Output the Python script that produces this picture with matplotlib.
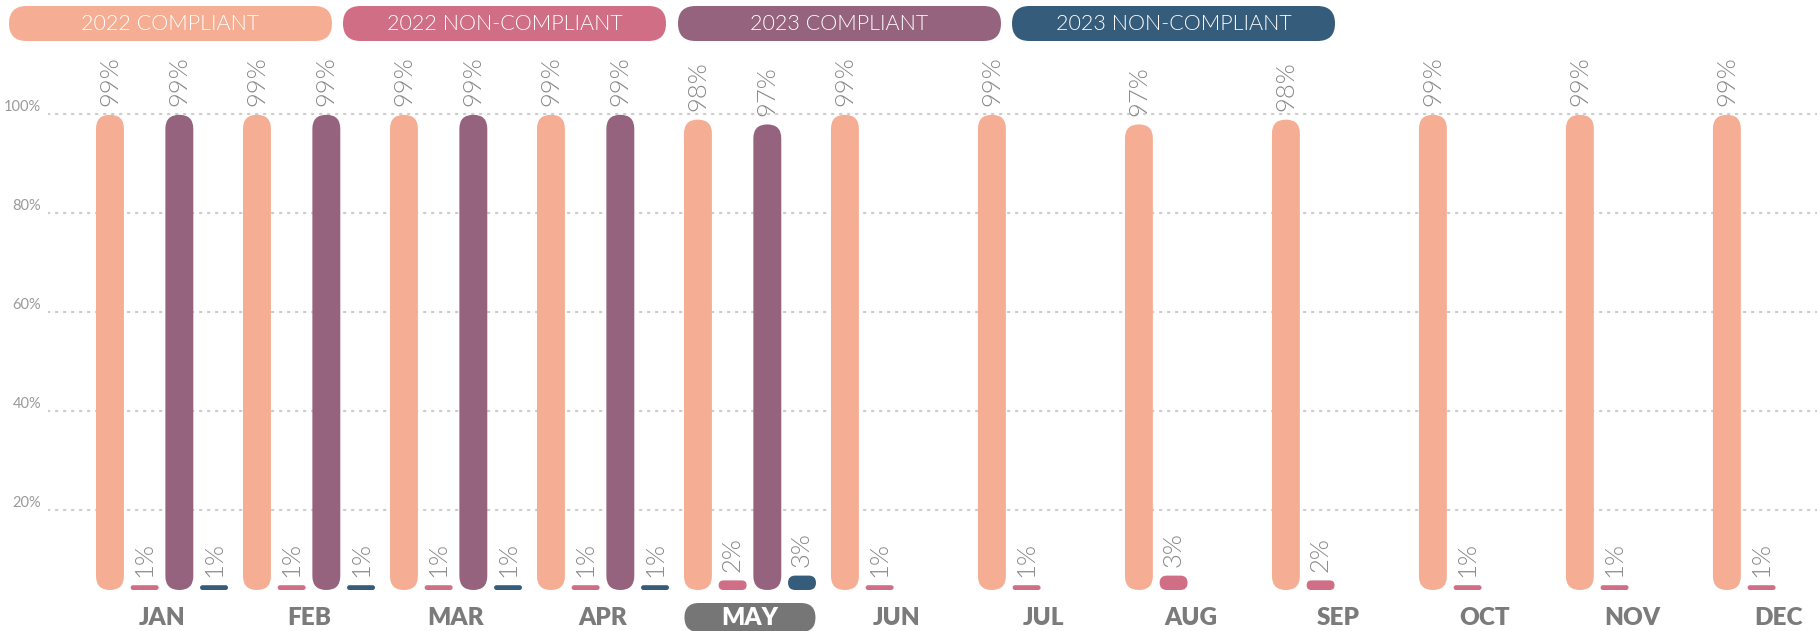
import matplotlib
matplotlib.use("Agg")
import matplotlib.pyplot as plt
from matplotlib.patches import FancyBboxPatch

# ---------------- data ----------------
months = ["JAN", "FEB", "MAR", "APR", "MAY", "JUN", "JUL", "AUG", "SEP", "OCT", "NOV", "DEC"]
series_names = ["2022 COMPLIANT", "2022 NON-COMPLIANT", "2023 COMPLIANT", "2023 NON-COMPLIANT"]
compliant_2022 = [99, 99, 99, 99, 98, 99, 99, 97, 98, 99, 99, 99]
noncompliant_2022 = [1, 1, 1, 1, 2, 1, 1, 3, 2, 1, 1, 1]
compliant_2023 = [99, 99, 99, 99, 97, None, None, None, None, None, None, None]
noncompliant_2023 = [1, 1, 1, 1, 3, None, None, None, None, None, None, None]
series_values = [compliant_2022, noncompliant_2022, compliant_2023, noncompliant_2023]
colors = ["#F5AE93", "#D06E86", "#96637F", "#355C7A"]
yticks = [20, 40, 60, 80, 100]
ytick_labels = ["20%", "40%", "60%", "80%", "100%"]
highlight_month = "MAY"

plt.rcParams["font.family"] = ["Lato", "DejaVu Sans"]

W, H = 1817, 631
fig = plt.figure(figsize=(W / 100, H / 100), dpi=100)
fig.patch.set_facecolor("white")

ax = fig.add_axes([48 / W, 0, (W - 48) / W, 1])
ax.set_xlim(-0.7755, 11.259)
ax.set_ylim(-4.444, 123.03)
for s in ax.spines.values():
    s.set_visible(False)
ax.set_xticks([])
ax.set_yticks(yticks, ytick_labels)
ax.tick_params(axis="y", length=0, pad=5, labelsize=10.5, labelcolor="#9a9a9a")
for lab in ax.get_yticklabels():
    lab.set_verticalalignment("bottom")
ax.yaxis.grid(True, color="#cccccc", linewidth=1.6, linestyle=(0, (0.6, 3.0)),
              dash_capstyle="round")
ax.set_axisbelow(True)

# bar axis
axb = ax.twinx()
axb.set_ylim(-8.542, 122.92)
axb.axis("off")

p0 = axb.transData.transform((0, 0))
p1 = axb.transData.transform((1, 1))
sx, sy = p1[0] - p0[0], p1[1] - p0[1]
aspect = sx / sy

bar_w = 0.19
step = 0.236
for j, vals in enumerate(series_values):
    off = (j - 1.5) * step
    for i, v in enumerate(vals):
        if v is None:
            continue
        x = i + off
        h_px = v * sy
        r_px = min(bar_w * sx, h_px) / 2
        r = r_px / sx
        p = FancyBboxPatch((x - bar_w / 2, 0), bar_w, v,
                           boxstyle=f"round,pad=0,rounding_size={r}",
                           mutation_aspect=aspect, fc=colors[j], ec="none",
                           transform=axb.transData)
        axb.add_patch(p)
        axb.annotate(f"{v}%", (x, v), xytext=(0, 6), textcoords="offset points",
                     rotation=90, ha="center", va="bottom", fontsize=18.5,
                     color="#8a8a8a", fontweight=300)

# month labels
xt = ax.get_xaxis_transform()
ylab = (H - 618) / H
for i, m in enumerate(months):
    if m == highlight_month:
        pw = 131 / 147
        py0 = (H - 632) / H
        ph = 29 / H
        pill = FancyBboxPatch((i - pw / 2, py0), pw, ph,
                              boxstyle=f"round,pad=0,rounding_size={14.5 / 147}",
                              mutation_aspect=147 / H,
                              fc="#767676", ec="none", transform=xt, clip_on=False)
        ax.add_patch(pill)
        ax.text(i, ylab, m, transform=xt, ha="center", va="center", fontsize=17.5,
                fontweight="heavy", color="white")
    else:
        ax.text(i, ylab, m, transform=xt, ha="center", va="center", fontsize=17.5,
                fontweight="heavy", color="#7b7b7b")

# legend pills
lx = [9, 343, 678, 1012]
lw_px = 323
ly0, lh = 6, 35
for k, name in enumerate(series_names):
    pp = FancyBboxPatch((lx[k] / W, (H - ly0 - lh) / H), lw_px / W, lh / H,
                        boxstyle=f"round,pad=0,rounding_size={(lh / 2) / W}",
                        mutation_aspect=W / H, fc=colors[k], ec="none",
                        transform=fig.transFigure)
    fig.add_artist(pp)
    fig.text((lx[k] + lw_px / 2) / W, (H - ly0 - lh / 2) / H, name, ha="center",
             va="center", color="white", fontsize=15.5, fontweight=300)

fig.savefig("out.png", dpi=100)
